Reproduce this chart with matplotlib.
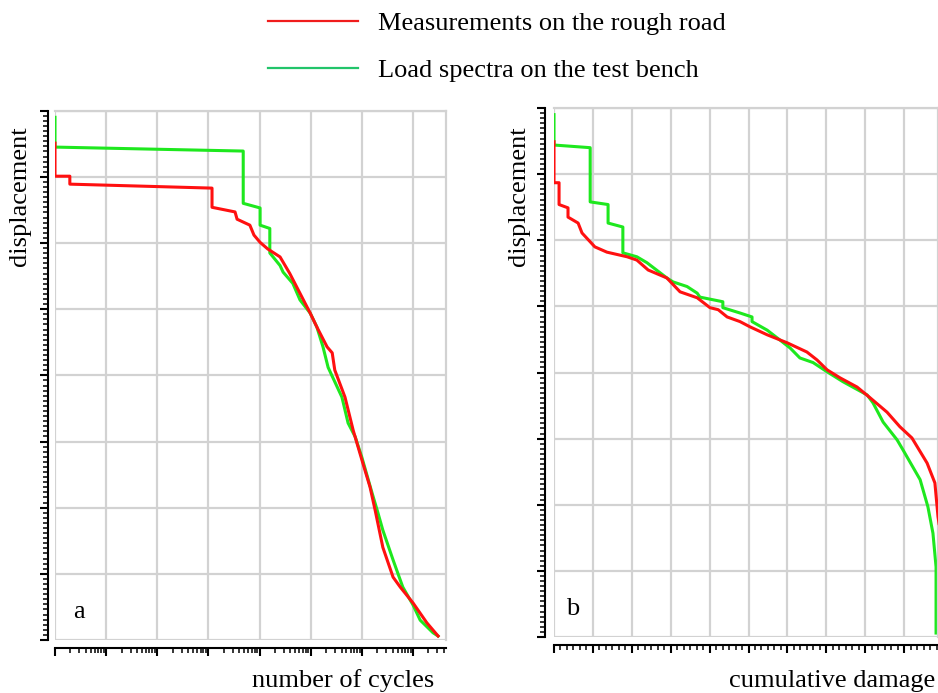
import numpy as np
import matplotlib
matplotlib.use("Agg")
import matplotlib.pyplot as plt
from matplotlib.lines import Line2D
from matplotlib.ticker import LogLocator, MultipleLocator, AutoMinorLocator, NullFormatter

plt.rcParams['font.family'] = ['Liberation Serif', 'DejaVu Serif']

# --- data ---
# panel a: number of cycles (log10 exponent) vs displacement
road_a_exp = [0.0, 0.0, 0.29, 0.29, 3.07, 3.07, 3.52, 3.56, 3.81, 3.89, 4.01, 4.16, 4.40,
              4.59, 4.79, 4.99, 5.12, 5.32, 5.42, 5.47, 5.67, 5.83, 6.02, 6.16, 6.26,
              6.41, 6.61, 6.75, 7.00, 7.27, 7.49]
road_a_disp = [7.51, 7.01, 7.01, 6.89, 6.83, 6.54, 6.47, 6.36, 6.27, 6.12, 6.01, 5.91, 5.79,
               5.54, 5.24, 4.94, 4.73, 4.43, 4.34, 4.08, 3.67, 3.17, 2.67, 2.31, 1.96,
               1.40, 0.95, 0.80, 0.56, 0.26, 0.06]
bench_a_exp = [0.0, 0.0, 3.68, 3.68, 4.01, 4.01, 4.20, 4.20, 4.40, 4.46, 4.65, 4.79, 4.99,
               5.12, 5.24, 5.34, 5.61, 5.73, 5.87, 6.00, 6.20, 6.30, 6.41, 6.61, 6.80,
               7.00, 7.14, 7.39, 7.49]
bench_a_disp = [7.90, 7.45, 7.39, 6.60, 6.53, 6.27, 6.22, 5.85, 5.66, 5.56, 5.39, 5.14, 4.94,
                4.73, 4.43, 4.12, 3.67, 3.28, 3.07, 2.76, 2.22, 1.96, 1.66, 1.21, 0.80,
                0.53, 0.30, 0.11, 0.06]

# panel b: cumulative damage vs displacement
road_b_dmg = [0.0, 0.0, 0.013, 0.013, 0.036, 0.036, 0.062, 0.072, 0.105, 0.136, 0.188, 0.213,
              0.242, 0.290, 0.324, 0.368, 0.401, 0.422, 0.445, 0.478, 0.504, 0.548, 0.599,
              0.650, 0.676, 0.702, 0.735, 0.779, 0.812, 0.856, 0.889, 0.920, 0.959, 0.979,
              0.987, 0.995]
road_b_disp = [7.49, 6.87, 6.87, 6.54, 6.49, 6.35, 6.26, 6.11, 5.90, 5.82, 5.75, 5.70,
               5.55, 5.43, 5.22, 5.13, 4.98, 4.95, 4.84, 4.77, 4.69, 4.57, 4.45,
               4.31, 4.19, 4.04, 3.92, 3.78, 3.62, 3.40, 3.18, 3.01, 2.63, 2.33,
               1.82, 1.50]
bench_b_dmg = [0.0, 0.0, 0.093, 0.093, 0.139, 0.139, 0.177, 0.177, 0.213, 0.239, 0.290, 0.306,
               0.342, 0.368, 0.375, 0.434, 0.434, 0.478, 0.509, 0.509, 0.548, 0.581, 0.607,
               0.632, 0.666, 0.702, 0.743, 0.805, 0.820, 0.846, 0.882, 0.897, 0.941, 0.961,
               0.974, 0.982, 0.982]
bench_b_disp = [7.90, 7.44, 7.40, 6.58, 6.54, 6.26, 6.20, 5.81, 5.75, 5.66, 5.43, 5.37,
                5.30, 5.20, 5.14, 5.07, 4.98, 4.90, 4.84, 4.77, 4.64, 4.49, 4.37,
                4.22, 4.15, 4.01, 3.86, 3.66, 3.54, 3.25, 2.98, 2.83, 2.38, 1.97,
                1.57, 1.06, 0.06]

labels = ['Measurements on the rough road', 'Load spectra on the test bench']

red = '#ff1010'
green = '#1ee81e'
grid_c = '#d2d2d2'

W, H = 938, 693
fig = plt.figure(figsize=(W / 100, H / 100), dpi=100)

ax1 = fig.add_axes([55 / W, 1 - 640 / H, 390.5 / W, 529.3 / H])
ax2 = fig.add_axes([554 / W, 1 - 637 / H, 384 / W, 529 / H])


def style(ax, yoff, xoff):
    ax.set_ylim(0, 8)
    ax.yaxis.set_major_locator(MultipleLocator(1))
    ax.yaxis.set_minor_locator(AutoMinorLocator(13))
    ax.grid(True, which='major', color=grid_c, lw=1.6)
    ax.set_axisbelow(True)
    for s in ['top', 'right']:
        ax.spines[s].set_color(grid_c)
        ax.spines[s].set_linewidth(1.6)
    ax.spines['left'].set_position(('outward', yoff))
    ax.spines['bottom'].set_position(('outward', xoff))
    ax.spines['left'].set_linewidth(1.5)
    ax.spines['bottom'].set_linewidth(1.5)
    ax.tick_params(which='major', length=6, width=1.5)
    ax.tick_params(which='minor', length=3.5, width=1.1)
    ax.tick_params(labelleft=False, labelbottom=False)


# panel a
ax1.plot(10.0 ** np.array(road_a_exp), road_a_disp, color=red, lw=2.2, zorder=3)
ax1.plot(10.0 ** np.array(bench_a_exp), bench_a_disp, color=green, lw=2.2, zorder=2)
ax1.set_xscale('log')
ax1.set_xlim(1, 10 ** 7.635)
ax1.xaxis.set_major_locator(LogLocator(base=10, numticks=20))
ax1.xaxis.set_minor_locator(LogLocator(base=10, subs=np.arange(2, 10), numticks=20))
ax1.xaxis.set_minor_formatter(NullFormatter())
style(ax1, 5, 6)

# panel b
ax2.plot(road_b_dmg, road_b_disp, color=red, lw=2.2, zorder=3)
ax2.plot(bench_b_dmg, bench_b_disp, color=green, lw=2.2, zorder=2)
ax2.set_xlim(0, 0.987)
ax2.xaxis.set_major_locator(MultipleLocator(0.1))
ax2.xaxis.set_minor_locator(AutoMinorLocator(6))
style(ax2, 6.5, 6)

fs = 19
ax1.text(0.046, 0.042, 'a', transform=ax1.transAxes, fontsize=fs, va='baseline')
ax2.text(0.031, 0.042, 'b', transform=ax2.transAxes, fontsize=fs, va='baseline')

fig.text(20 / W, 1 - 196 / H, 'displacement', rotation=90, fontsize=fs, ha='center', va='center')
fig.text(519 / W, 1 - 196 / H, 'displacement', rotation=90, fontsize=fs, ha='center', va='center')
fig.text(343 / W, 1 - 681 / H, 'number of cycles', fontsize=fs, ha='center', va='center')
fig.text(832 / W, 1 - 681 / H, 'cumulative damage', fontsize=fs, ha='center', va='center')

handles = [Line2D([], [], color='#f01c1c', lw=1.6),
           Line2D([], [], color='#22c46a', lw=1.6)]
fig.legend(handles, labels, loc='upper left', bbox_to_anchor=(268 / W, 1 - 12 / H),
           frameon=False, fontsize=fs, handlelength=3.4, handletextpad=0.75,
           labelspacing=0.87, borderpad=0, borderaxespad=0)

fig.savefig('out.png', dpi=100)
